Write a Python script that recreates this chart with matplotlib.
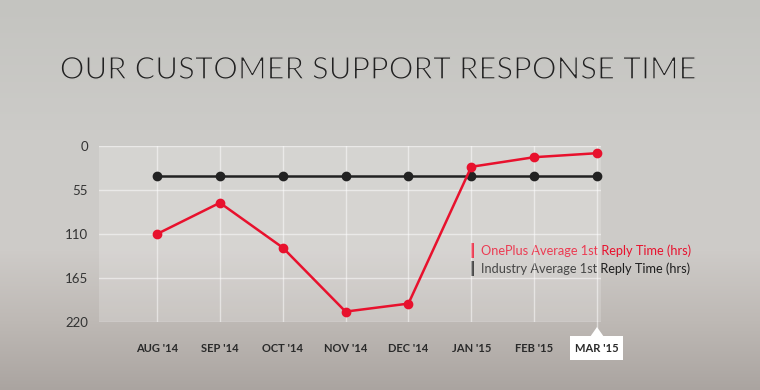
import numpy as np
import matplotlib
matplotlib.use("Agg")
import matplotlib.pyplot as plt
import matplotlib.patheffects as pe
from matplotlib.patches import Rectangle, Polygon

months = ["AUG '14", "SEP '14", "OCT '14", "NOV '14", "DEC '14", "JAN '15", "FEB '15", "MAR '15"]
oneplus = [110, 71, 127, 207, 197, 26, 14, 9]
industry = [38, 38, 38, 38, 38, 38, 38, 38]
yticks = [0, 55, 110, 165, 220]
series_names = ["OnePlus Average 1st Reply Time (hrs)", "Industry Average 1st Reply Time (hrs)"]

RED = "#e8112d"
BLACK = "#222222"
plt.rcParams['font.family'] = ['Lato', 'DejaVu Sans']

W, H = 760, 390
fig = plt.figure(figsize=(W / 100, H / 100), dpi=100)

# background gradient
bg = fig.add_axes([0, 0, 1, 1])
bg.set_axis_off()
stops_y = [0, 130, 250, 320, 390]
stops_c = [(196, 196, 192), (204, 203, 200), (206, 203, 200), (190, 185, 181), (170, 164, 160)]
ys = np.arange(H)
grad = np.zeros((H, 1, 3))
for k in range(3):
    grad[:, 0, k] = np.interp(ys, stops_y, [c[k] for c in stops_c]) / 255
bg.imshow(grad, aspect='auto', extent=[0, W, H, 0])
bg.set_xlim(0, W)
bg.set_ylim(H, 0)

# main axes: left 99, right 601, top 146, bottom 322 (pixels from top)
L, R, T, B = 99, 601, 146, 322
ax = fig.add_axes([L / W, (H - B) / H, (R - L) / W, (B - T) / H])
ax.set_facecolor((1, 1, 1, 0.18))
for s in ax.spines.values():
    s.set_visible(False)

x = np.arange(len(months))
px_per = (597 - 157) / 7
ax.set_xlim(-(157 - L) / px_per, 7 + (R - 597) / px_per)
ax.set_ylim(220, 0)

ax.set_yticks(yticks)
ax.set_yticklabels([str(v) for v in yticks], fontsize=9.5, color="#333333")
ax.set_xticks(x)
ax.set_xticklabels(months, fontsize=8, fontweight='bold', color="#2a2a2a")
ax.tick_params(axis='both', length=0)
ax.tick_params(axis='y', pad=8)
ax.tick_params(axis='x', pad=15)
ax.grid(True, color="white", alpha=0.5, lw=1)
ax.set_axisbelow(True)

ax.plot(x, industry, color=BLACK, lw=1.8, marker='o', markersize=6, clip_on=False, zorder=3)
ax.plot(x, oneplus, color=RED, lw=1.8, marker='o', markersize=6, clip_on=False, zorder=4)

# highlight box for last tick label
bg.add_patch(Rectangle((570, 336), 53, 24, facecolor="white", edgecolor="none", zorder=2))
bg.add_patch(Polygon([[590, 337], [597, 327], [604, 337]], closed=True, facecolor="white", edgecolor="none", zorder=2))
bg.plot([597, 597], [322, 328], color="white", alpha=0.5, lw=1)

# legend
bg.add_patch(Rectangle((470.5, 243), 3.5, 15, facecolor=RED, edgecolor="none"))
bg.add_patch(Rectangle((470.5, 261), 3.5, 15, facecolor=BLACK, edgecolor="none"))
bg.text(481, 251, series_names[0], color=RED, fontsize=9.2, va='center', ha='left')
bg.text(481, 269, series_names[1], color="#1e1e1e", fontsize=9.2, va='center', ha='left')

# title (regular weight thinned by stroking the outline in the background colour)
bg.text(379, 70, "OUR CUSTOMER SUPPORT RESPONSE TIME", fontsize=22.3, fontweight='normal',
        color="#222222", ha='center', va='center',
        path_effects=[pe.Stroke(linewidth=1.0, foreground=(0.785, 0.782, 0.77))])

fig.savefig("out.png", dpi=100)
